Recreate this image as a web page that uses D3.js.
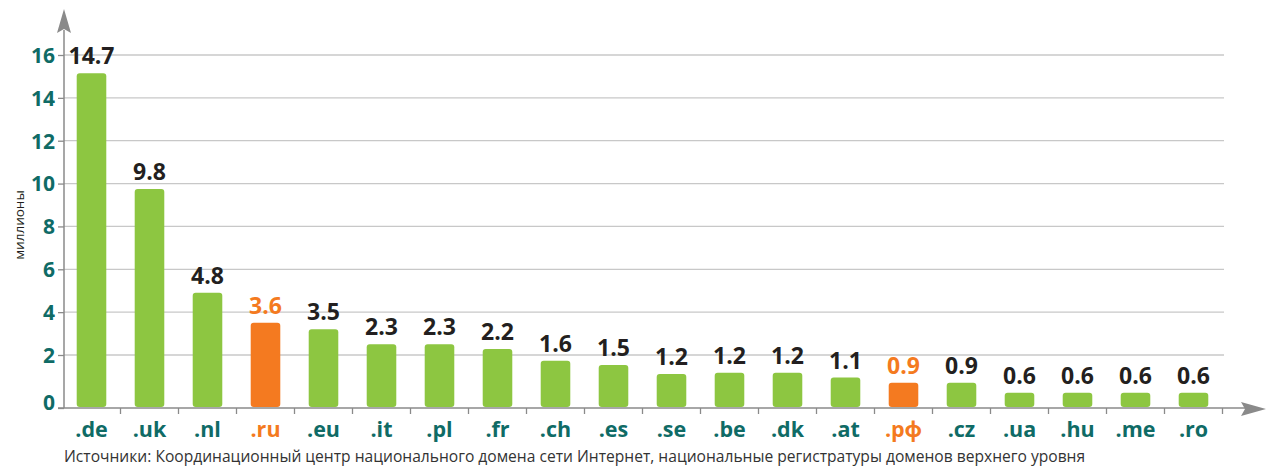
<!DOCTYPE html>
<html lang="ru">

<head>
    <meta charset="UTF-8">
    <title>Домены</title>
    <script src="https://cdn.jsdelivr.net/npm/d3@7"></script>
    <style>
        body {
            margin: 0;
            background: #fff;
        }

        svg {
            display: block;
            font-family: "Open Sans", sans-serif;
        }
    </style>
</head>

<body>
    <script>
        'use strict';
        // данные
        var domains = ['.de', '.uk', '.nl', '.ru', '.eu', '.it', '.pl', '.fr', '.ch', '.es',
            '.se', '.be', '.dk', '.at', '.рф', '.cz', '.ua', '.hu', '.me', '.ro'];
        // подписи над столбцами
        var labels = ['14.7', '9.8', '4.8', '3.6', '3.5', '2.3', '2.3', '2.2', '1.6', '1.5',
            '1.2', '1.2', '1.2', '1.1', '0.9', '0.9', '0.6', '0.6', '0.6', '0.6'];
        // высоты столбцов, как нарисованы на картинке (млн)
        var heights = [15.15, 9.75, 4.9, 3.5, 3.2, 2.5, 2.5, 2.28, 1.78, 1.62,
            1.28, 1.33, 1.33, 1.15, 0.95, 0.95, 0.58, 0.58, 0.58, 0.58];
        var highlight = ['.ru', '.рф'];
        var yTicks = [0, 2, 4, 6, 8, 10, 12, 14, 16];

        var w = 1269,
            h = 467;
        var teal = '#0f6b66',
            green = '#8dc641',
            orange = '#f47a20';

        var svg = d3.select('body')
            .append('svg')
            .attr('width', w)
            .attr('height', h);

        var x = d3.scaleBand()
            .domain(domains)
            .range([62.5, 1222.5]);

        // ось с разрывом внизу: 0 опущен ниже
        var y = d3.scaleLinear()
            .domain([0, 2, 16])
            .range([408, 355, 55]);

        // сетка
        svg.append('g')
            .selectAll('line')
            .data(yTicks.slice(1))
            .enter()
            .append('line')
            .attr('x1', 64)
            .attr('x2', 1224)
            .attr('y1', d => y(d))
            .attr('y2', d => y(d))
            .attr('stroke', '#c8c8c8')
            .attr('stroke-width', 1.3);

        // ось Y
        var yAxis = svg.append('g')
            .attr('transform', 'translate(64,0)')
            .call(d3.axisLeft(y).tickValues(yTicks).tickSize(6).tickPadding(3));
        yAxis.select('.domain').remove();
        yAxis.selectAll('.tick line').attr('stroke', '#8a8a8a').attr('stroke-width', 1.3);
        yAxis.selectAll('.tick text')
            .attr('fill', teal)
            .attr('font-size', '21px')
            .attr('font-weight', 'bold')
            .attr('font-family', '"Open Sans", sans-serif')
            .attr('dy', d => d === 0 ? '0.05em' : '0.35em');

        svg.append('line')
            .attr('x1', 64).attr('x2', 64)
            .attr('y1', 30).attr('y2', 408)
            .attr('stroke', '#8a8a8a')
            .attr('stroke-width', 1.5);
        svg.append('path')
            .attr('d', 'M64,9 L71,33 L64,29 L57,33 Z')
            .attr('fill', '#8a8a8a');

        // ось X
        svg.append('line')
            .attr('x1', 58).attr('x2', 1245)
            .attr('y1', 408).attr('y2', 408)
            .attr('stroke', '#8a8a8a')
            .attr('stroke-width', 1.5);
        svg.append('path')
            .attr('d', 'M1266,409 L1241,402 L1245,409 L1241,416 Z')
            .attr('fill', '#8a8a8a');
        svg.append('g')
            .selectAll('line')
            .data(domains)
            .enter()
            .append('line')
            .attr('x1', d => x(d) + x.bandwidth())
            .attr('x2', d => x(d) + x.bandwidth())
            .attr('y1', 408)
            .attr('y2', 414)
            .attr('stroke', '#8a8a8a')
            .attr('stroke-width', 1.3);

        var bw = x.bandwidth() * 0.51;
        var color = d => highlight.indexOf(d) >= 0 ? orange : green;

        // столбцы
        svg.append('g')
            .selectAll('rect')
            .data(domains)
            .enter()
            .append('rect')
            .attr('x', d => x(d) + (x.bandwidth() - bw) / 2)
            .attr('y', (d, i) => y(heights[i]))
            .attr('width', bw)
            .attr('height', (d, i) => 407 - y(heights[i]))
            .attr('rx', 3)
            .attr('fill', color);

        // подписи значений
        svg.append('g')
            .selectAll('text')
            .data(domains)
            .enter()
            .append('text')
            .attr('x', d => x(d) + x.bandwidth() / 2)
            .attr('y', (d, i) => y(heights[i]) - 9)
            .attr('text-anchor', 'middle')
            .attr('font-size', '23px')
            .attr('font-weight', 'bold')
            .attr('fill', d => highlight.indexOf(d) >= 0 ? orange : '#231f20')
            .text((d, i) => labels[i]);

        // домены
        svg.append('g')
            .selectAll('text')
            .data(domains)
            .enter()
            .append('text')
            .attr('x', d => x(d) + x.bandwidth() / 2)
            .attr('y', 437)
            .attr('text-anchor', 'middle')
            .attr('font-size', '21.5px')
            .attr('font-weight', 'bold')
            .attr('fill', d => highlight.indexOf(d) >= 0 ? orange : teal)
            .text(d => d);

        // подпись оси
        svg.append('text')
            .attr('transform', 'translate(24,225) rotate(-90)')
            .attr('text-anchor', 'middle')
            .attr('font-size', '13.5px')
            .attr('fill', '#231f20')
            .text('миллионы');

        // источник
        svg.append('text')
            .attr('x', 64)
            .attr('y', 462)
            .attr('font-size', '15.6px')
            .attr('fill', '#333')
            .text('Источники: Координационный центр национального домена сети Интернет, национальные регистратуры доменов верхнего уровня');
    </script>
</body>

</html>
